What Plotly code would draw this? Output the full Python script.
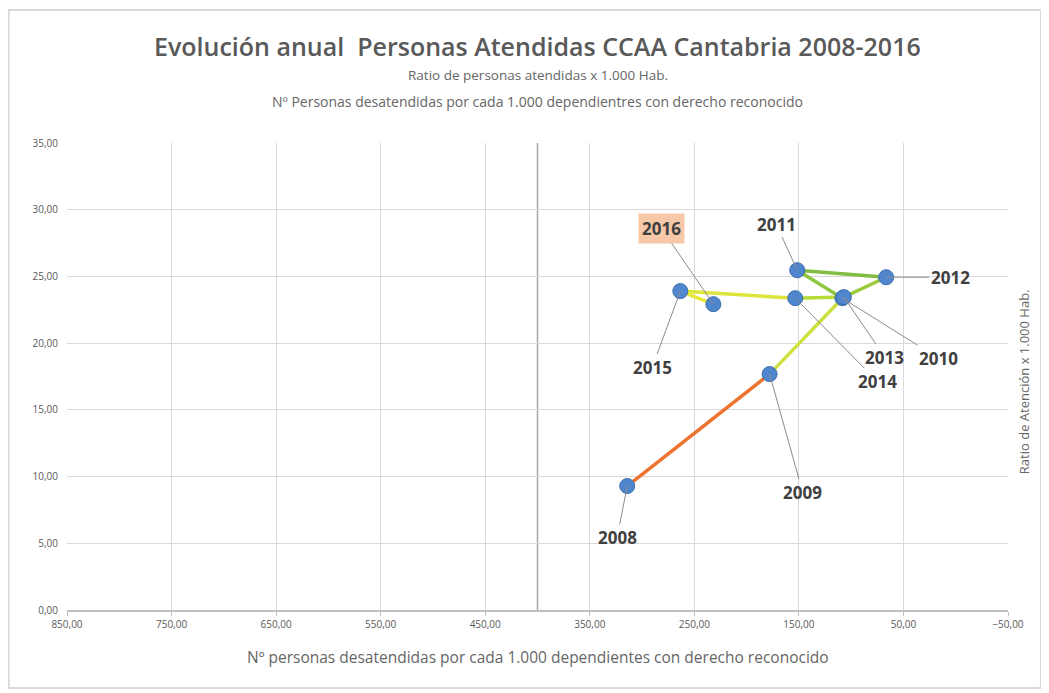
import plotly.graph_objects as go

# ---- data ----
years = ["2008", "2009", "2010", "2011", "2012", "2013", "2014", "2015", "2016"]
desatendidas = [314.2, 178.0, 108.4, 151.6, 66.5, 107.0, 153.5, 263.4, 231.8]
ratio_atencion = [9.29, 17.68, 23.37, 25.47, 24.94, 23.45, 23.37, 23.90, 22.92]

x_ticks = [850, 750, 650, 550, 450, 350, 250, 150, 50, -50]
y_ticks = [0, 5, 10, 15, 20, 25, 30, 35]

title = "Evolución anual  Personas Atendidas CCAA Cantabria 2008-2016"
subtitle1 = "Ratio de personas atendidas x 1.000 Hab."
subtitle2 = "Nº Personas desatendidas por cada 1.000 dependientres con derecho reconocido"
x_title = "Nº personas desatendidas por cada 1.000 dependientes con derecho reconocido"
y_title = "Ratio de Atención x 1.000 Hab."

# ---- styles ----
segment_colors = ["#EC7430", "#CFE03E", "#8FC640", "#80BD42", "#9CCB3B",
                  "#B8D936", "#DCE53A", "#E8EA3A"]
label_offsets = {  # pixel offsets of labels from their points
    "2008": (-10, 51), "2009": (33, 118), "2010": (96, 60), "2011": (-21, -46),
    "2012": (64, 0), "2013": (41, 60), "2014": (82, 83), "2015": (-28, 76),
    "2016": (-52, -76),
}
FONT = "Open Sans"

fig = go.Figure()

for i in range(len(years) - 1):
    fig.add_trace(go.Scatter(
        x=desatendidas[i:i + 2], y=ratio_atencion[i:i + 2], mode="lines",
        line=dict(color=segment_colors[i], width=3.5),
        hoverinfo="skip", showlegend=False))

fig.add_trace(go.Scatter(
    x=desatendidas, y=ratio_atencion, mode="markers", text=years,
    marker=dict(size=15, color="#4F86CE", line=dict(color="#3F6FAE", width=1)),
    showlegend=False, hovertemplate="%{text}: %{x:.2f} / %{y:.2f}<extra></extra>"))

annotations = []
for yr, xv, yv in zip(years, desatendidas, ratio_atencion):
    ax, ay = label_offsets[yr]
    ann = dict(x=xv, y=yv, xref="x", yref="y", text=yr, showarrow=True,
               arrowhead=0, arrowwidth=1, arrowcolor="#8C8C8C", ax=ax, ay=ay,
               standoff=0, font=dict(family=FONT, size=17, color="#404040", weight="bold"))
    if yr == "2016":
        ann.update(bgcolor="#F6C8A8", borderpad=3)
    annotations.append(ann)

annotations += [
    dict(xref="paper", yref="paper", x=0.5, y=1.207, text=title, showarrow=False,
         xanchor="center", yanchor="middle",
         font=dict(family=FONT, size=25, color="#595959", weight=600)),
    dict(xref="paper", yref="paper", x=0.5, y=1.146, text=subtitle1, showarrow=False,
         xanchor="center", yanchor="middle", font=dict(family=FONT, size=13.5, color="#666666")),
    dict(xref="paper", yref="paper", x=0.5, y=1.089, text=subtitle2, showarrow=False,
         xanchor="center", yanchor="middle", font=dict(family=FONT, size=14, color="#666666")),
    dict(xref="paper", yref="paper", x=0.5, y=-0.10, text=x_title, showarrow=False,
         xanchor="center", yanchor="middle", font=dict(family=FONT, size=15.5, color="#666666")),
    dict(xref="paper", yref="paper", x=1.017, y=0.49, text=y_title, showarrow=False,
         textangle=-90, xanchor="center", yanchor="middle",
         font=dict(family=FONT, size=13, color="#666666")),
]

shapes = [
    # y-axis line crossing at x = 400
    dict(type="line", xref="x", yref="paper", x0=400, x1=400, y0=0, y1=1,
         line=dict(color="#A6A6A6", width=1.5), layer="below"),
    # outer chart border
    dict(type="rect", xref="paper", yref="paper", x0=-0.062, x1=1.035, y0=-0.167, y1=1.285,
         line=dict(color="#D9D9D9", width=2)),
]

fig.update_layout(
    width=1041, height=685,
    margin=dict(l=59, r=41, t=135, b=83),
    paper_bgcolor="white", plot_bgcolor="white",
    separators=",.",
    annotations=annotations, shapes=shapes,
    font=dict(family=FONT, color="#595959"),
)
fig.update_xaxes(range=[850, -50], tickvals=x_ticks, tickformat=".2f",
                 showgrid=True, gridcolor="#D9D9D9", gridwidth=1,
                 showline=True, linecolor="#BFBFBF", linewidth=1.5,
                 ticks="outside", ticklen=4, tickcolor="#BFBFBF",
                 tickfont=dict(size=10, color="#595959"), zeroline=False, mirror=False)
fig.update_yaxes(range=[0, 35], tickvals=y_ticks, tickformat=".2f",
                 showgrid=True, gridcolor="#D9D9D9", gridwidth=1,
                 showline=False, ticks="", ticklabelstandoff=8,
                 tickfont=dict(size=10, color="#595959"), zeroline=False)

fig.write_html("out.html")
